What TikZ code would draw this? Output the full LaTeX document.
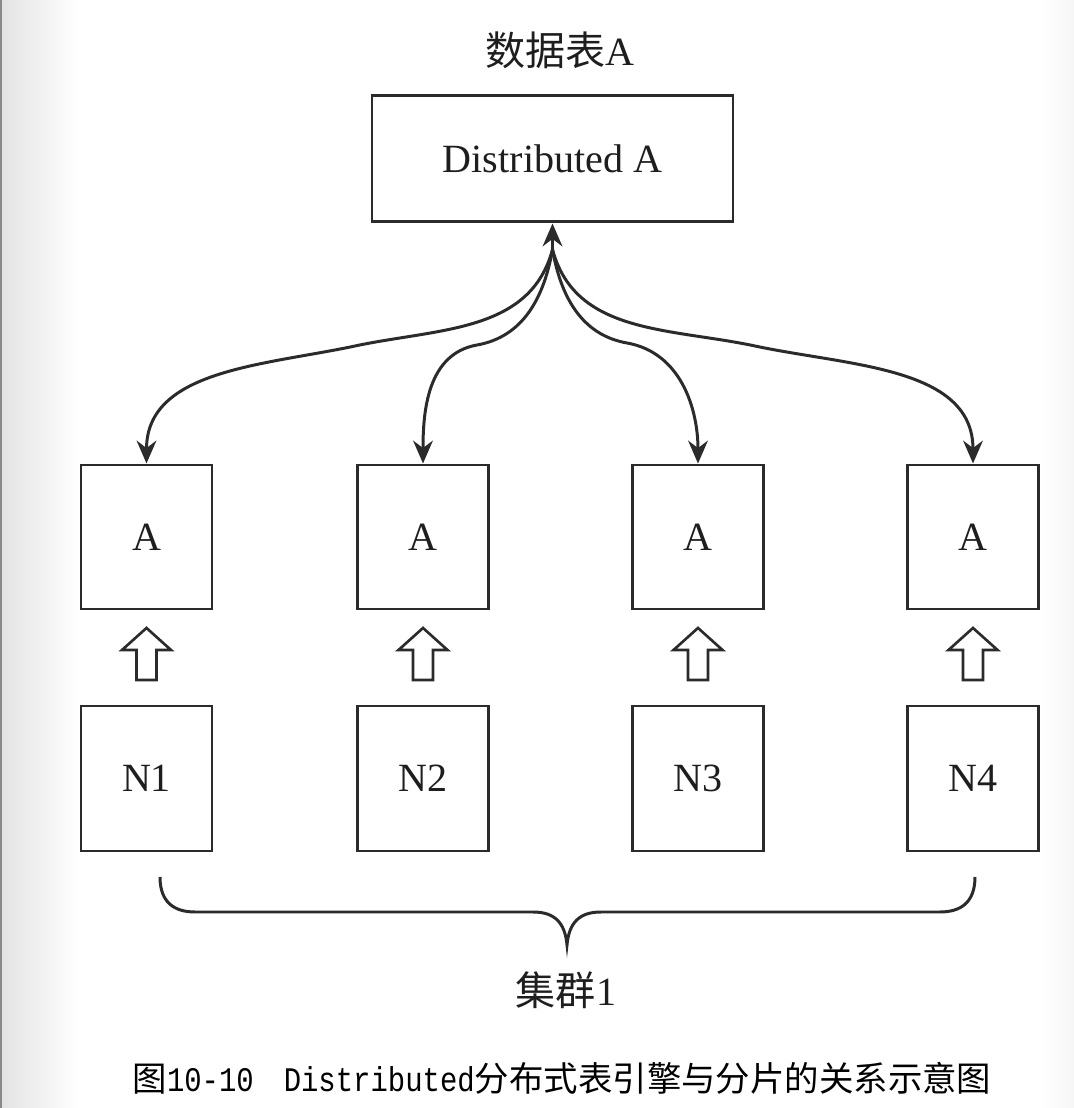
\documentclass[tikz,border=0pt]{standalone}
\usepackage{fontspec}
\usepackage{tikz}
\usetikzlibrary{arrows.meta, positioning, calc}
\setmainfont{Liberation Serif}
\newfontfamily\cjk{Noto Sans CJK SC}
\newfontfamily\capmono[FakeStretch=0.84]{Liberation Mono}
\definecolor{linegray}{HTML}{2B2B2B}
\definecolor{textgray}{HTML}{1E1E1E}
\definecolor{edgegray}{HTML}{8A8A8A}

\begin{document}
\begin{tikzpicture}[
    >={Stealth[length=6.5pt, width=5.6pt]},
    tbox/.style={draw=linegray, line width=0.85pt, minimum width=#1, inner sep=0pt, text=textgray, font=\fontsize{11.4}{13}\selectfont},
    link/.style={->, draw=linegray, line width=0.85pt},
    hollow/.style={draw=linegray, line width=0.75pt, fill=white},
    lbl/.style={text=textgray, font=\fontsize{11.4}{13}\selectfont},
]
    % page and its shaded left edge
    \fill[white] (0,0) rectangle (10.74,11.08);
    \useasboundingbox (0,0) rectangle (10.74,11.08);
    \shade[left color=gray!22, right color=white] (0.02,0) rectangle (0.78,11.08);
    \shade[left color=white, right color=gray!7] (10.40,0) rectangle (10.74,11.08);
    \fill[edgegray] (0,0) rectangle (0.025,11.08);

    % table A
    \node[lbl] (title) at (5.60,10.58) {{\cjk 数据表}A};
    \node[tbox=3.61cm, minimum height=1.26cm] (dist) at (5.525,9.49) {Distributed A};
    \coordinate (hub) at ($(dist.south)+(0,-0.26)$);
    \draw[link] (hub) -- (dist.south);

    % shards and nodes
    \foreach \i/\x in {1/1.465, 2/4.23, 3/6.98, 4/9.73} {
        \node[tbox=1.31cm, minimum height=1.44cm] (a\i) at (\x,5.71) {A};
        \node[tbox=1.31cm, minimum height=1.45cm] (n\i) at (\x,3.295) {N\i};
        \coordinate (m\i) at ($(a\i.south)!0.5!(n\i.north)$);
        \draw[hollow] ($(m\i)+(0,0.295)$) -- ++(-0.245,-0.22) -- ++(0.145,0)
            -- ++(0,-0.30) -- ++(0.20,0) -- ++(0,0.30) -- ++(0.145,0) -- cycle;
    }

    % curved links
    \draw[link] (hub) to[out=-105, in=12] (3.55,7.62) to[out=192, in=90] (a1.north);
    \draw[link] (hub) to[out=-100, in=10] (4.77,7.63) to[out=190, in=90] (a2.north);
    \draw[link] (hub) to[out=-80, in=170] (6.27,7.65) to[out=-10, in=90] (a3.north);
    \draw[link] (hub) to[out=-75, in=168] (7.55,7.62) to[out=-12, in=90] (a4.north);

    % cluster brace
    \draw[draw=linegray, line width=0.85pt] (1.60,2.31) .. controls (1.60,2.05) and (1.75,1.96) .. (1.95,1.96)
        -- (5.33,1.96) .. controls (5.55,1.96) and (5.65,1.85) .. (5.67,1.63)
        .. controls (5.69,1.85) and (5.79,1.96) .. (6.01,1.96)
        -- (9.40,1.96) .. controls (9.60,1.96) and (9.75,2.05) .. (9.75,2.31);
    \node[lbl] (cluster) at (5.66,1.18) {{\cjk 集群}1};

    % caption
    \node[text=black, font=\fontsize{9.8}{11}\selectfont] (caption) at (5.62,0.30)
        {{\cjk 图}{\capmono 10-10}\hspace{0.30cm}{\capmono Distributed}{\cjk 分布式表引擎与分片的关系示意图}};
\end{tikzpicture}
\end{document}
